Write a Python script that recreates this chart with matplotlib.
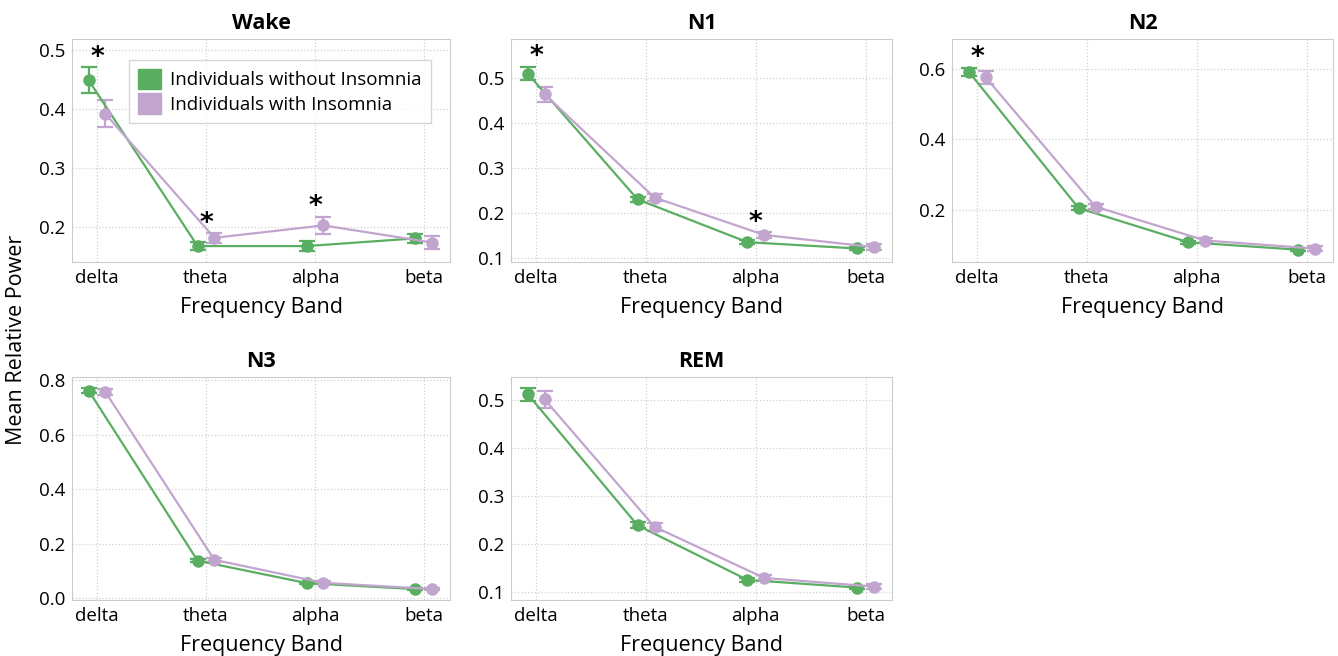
import numpy as np
import matplotlib.pyplot as plt
from matplotlib.patches import Patch

plt.rcParams['font.family'] = ['Open Sans', 'DejaVu Sans']

bands = ["delta", "theta", "alpha", "beta"]
stages = ["Wake", "N1", "N2", "N3", "REM"]

# mean relative power, without / with insomnia
no_ins = {
    "Wake": [0.449, 0.168, 0.168, 0.181],
    "N1":   [0.510, 0.231, 0.136, 0.122],
    "N2":   [0.592, 0.205, 0.108, 0.087],
    "N3":   [0.761, 0.138, 0.056, 0.034],
    "REM":  [0.513, 0.239, 0.125, 0.109],
}
ins = {
    "Wake": [0.392, 0.182, 0.203, 0.174],
    "N1":   [0.464, 0.235, 0.152, 0.125],
    "N2":   [0.576, 0.209, 0.113, 0.090],
    "N3":   [0.756, 0.141, 0.057, 0.034],
    "REM":  [0.502, 0.236, 0.129, 0.111],
}
# error bar half-widths
no_ins_err = {
    "Wake": [0.022, 0.007, 0.009, 0.008],
    "N1":   [0.015, 0.005, 0.004, 0.004],
    "N2":   [0.012, 0.006, 0.005, 0.004],
    "N3":   [0.008, 0.005, 0.004, 0.003],
    "REM":  [0.014, 0.006, 0.004, 0.004],
}
ins_err = {
    "Wake": [0.023, 0.008, 0.015, 0.011],
    "N1":   [0.017, 0.007, 0.006, 0.006],
    "N2":   [0.018, 0.007, 0.006, 0.006],
    "N3":   [0.011, 0.006, 0.005, 0.004],
    "REM":  [0.018, 0.008, 0.006, 0.006],
}
# significant bands
signif = {
    "Wake": ["delta", "theta", "alpha"],
    "N1":   ["delta", "alpha"],
    "N2":   ["delta"],
    "N3":   [],
    "REM":  [],
}
ylims = {
    "Wake": (0.141, 0.519),
    "N1":   (0.092, 0.587),
    "N2":   (0.052, 0.685),
    "N3":   (-0.006, 0.811),
    "REM":  (0.083, 0.549),
}
yticks = {
    "Wake": [0.2, 0.3, 0.4, 0.5],
    "N1":   [0.1, 0.2, 0.3, 0.4, 0.5],
    "N2":   [0.2, 0.4, 0.6],
    "N3":   [0.0, 0.2, 0.4, 0.6, 0.8],
    "REM":  [0.1, 0.2, 0.3, 0.4, 0.5],
}

green = "#5aae61"
purple = "#c2a5cf"
W, H = 1338, 656
fig = plt.figure(figsize=(W / 100, H / 100), dpi=100)

# axes boxes in pixels: left, top, right, bottom
boxes = {
    "Wake": (72, 39, 450, 262),
    "N1":   (511, 39, 892, 262),
    "N2":   (952, 39, 1333, 262),
    "N3":   (72, 377, 450, 600),
    "REM":  (511, 377, 892, 600),
}

x = np.arange(len(bands))
dx = 0.077
for s in stages:
    l, t, r, b = boxes[s]
    ax = fig.add_axes([l / W, 1 - b / H, (r - l) / W, (b - t) / H])
    for off, vals, errs, c in [(-dx, no_ins[s], no_ins_err[s], green),
                               (dx, ins[s], ins_err[s], purple)]:
        ax.errorbar(x + off, vals, yerr=errs, color=c, marker='o', ms=8,
                    lw=1.6, elinewidth=1.6, capsize=6, capthick=1.6)
    lo, hi = ylims[s]
    for bnd in signif[s]:
        i = bands.index(bnd)
        top = max(no_ins[s][i] + no_ins_err[s][i], ins[s][i] + ins_err[s][i])
        ax.annotate("*", xy=(i, top + 0.08 * (hi - lo)), xytext=(0, -11),
                    textcoords='offset points', ha='center', va='baseline',
                    fontsize=19, family='DejaVu Sans', fontweight='bold',
                    color='black')
    ax.set_xlim(-0.23, 3.24)
    ax.set_ylim(lo, hi)
    ax.set_xticks(x)
    ax.set_xticklabels(bands)
    ax.set_yticks(yticks[s])
    ax.set_yticklabels([f"{v:.1f}" for v in yticks[s]])
    ax.tick_params(length=0, labelsize=13.5, pad=5)
    ax.grid(True, ls=':', color='#d0d0d0', lw=0.9)
    ax.set_axisbelow(True)
    for sp in ax.spines.values():
        sp.set_color('#cccccc')
    ax.set_title(s, fontsize=15.5, fontweight='bold', pad=7)
    ax.set_xlabel("Frequency Band", fontsize=15.5, labelpad=7)
    if s == "Wake":
        handles = [Patch(color=green, label="Individuals without Insomnia"),
                   Patch(color=purple, label="Individuals with Insomnia")]
        ax.legend(handles=handles, loc='upper right', fontsize=13.5,
                  handlelength=1.2, handleheight=1.3, borderpad=0.5,
                  labelspacing=0.2, handletextpad=0.5, fancybox=False,
                  edgecolor='#cccccc', bbox_to_anchor=(0.975, 0.95))

fig.text(17 / W, 1 - 340 / H, "Mean Relative Power", rotation=90,
         ha='center', va='center', fontsize=15.5)

fig.savefig("out.png", dpi=100)
